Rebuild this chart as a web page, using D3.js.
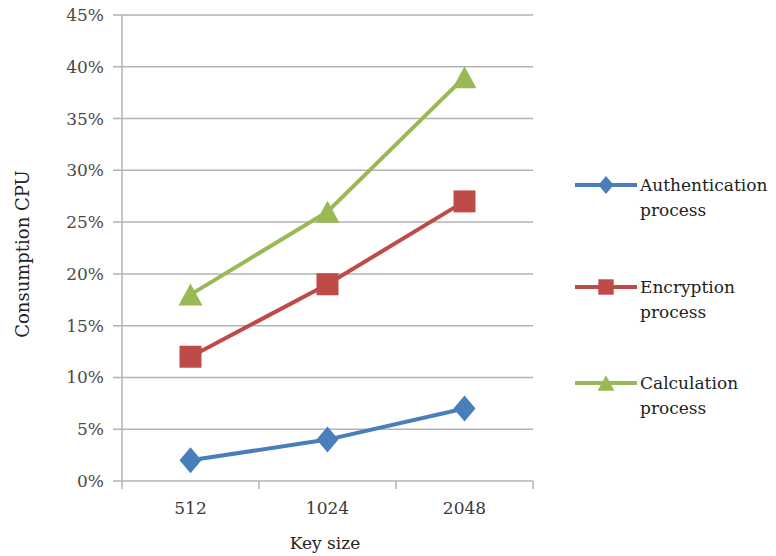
<!DOCTYPE html>
<html><head><meta charset="utf-8">
<script src="https://cdn.jsdelivr.net/npm/d3@7/dist/d3.min.js"></script>
<style>body{margin:0;background:#fff}svg{display:block}</style>
</head><body><svg id="c" width="776" height="556" font-family="'DejaVu Serif', serif"></svg>
<script>
const categories = ["512","1024","2048"];
const seriesNames = ["Authentication process","Encryption process","Calculation process"];
const authentication = [2,4,7];
const encryption = [12,19,27];
const calculation = [18,26,39];
const yTicks = [0,5,10,15,20,25,30,35,40,45];
const colors = ["#4a7ebb","#be4b48","#98b954"];
const seriesData = [authentication, encryption, calculation];

const svg = d3.select("#c");
const L=122, R=533, T=15, B=481;
const x = d3.scaleBand().domain(categories).range([L,R]);
const y = d3.scaleLinear().domain([0,45]).range([B,T]);

function marker(k, s){
  if(k===0){ const w=11*s,h=13*s; return `M0,${-h}L${w},0L0,${h}L${-w},0Z`; }
  if(k===1){ const a=11*s; return `M${-a},${-a}H${a}V${a}H${-a}Z`; }
  const w=12*s,h=11*s; return `M0,${-h}L${w},${h}H${-w}Z`;
}

svg.append("g").selectAll("line").data(yTicks).join("line")
  .attr("x1",113).attr("x2",R).attr("y1",d=>y(d)).attr("y2",d=>y(d))
  .attr("stroke","#b3b3b3").attr("stroke-width",1.5);
svg.append("g").selectAll("text").data(yTicks).join("text")
  .attr("x",104).attr("y",d=>y(d)).attr("dy","0.35em").attr("text-anchor","end")
  .attr("font-size",17).attr("fill","#4a4a4a").text(d=>d+"%");
svg.append("line").attr("x1",L).attr("x2",L).attr("y1",T).attr("y2",B).attr("stroke","#b3b3b3").attr("stroke-width",1.5);
const xt=[L].concat(categories.map(c=>x(c)+x.bandwidth()));
svg.append("g").selectAll("line").data(xt).join("line")
  .attr("x1",d=>d).attr("x2",d=>d).attr("y1",B).attr("y2",B+8).attr("stroke","#b3b3b3").attr("stroke-width",1.5);
svg.append("g").selectAll("text").data(categories).join("text")
  .attr("x",d=>x(d)+x.bandwidth()/2).attr("y",514).attr("text-anchor","middle")
  .attr("font-size",17).attr("fill","#3a3a3a").text(d=>d);
svg.append("text").attr("x",325).attr("y",549).attr("text-anchor","middle").attr("font-size",17).attr("fill","#222").text("Key size");
svg.append("text").attr("transform","translate(29,254) rotate(-90)").attr("text-anchor","middle").attr("font-size",18).attr("fill","#222").text("Consumption CPU");

const line = d3.line().x((d,i)=>x(categories[i])+x.bandwidth()/2).y(d=>y(d));
seriesData.forEach((s,k)=>{
  svg.append("path").datum(s).attr("d",line).attr("fill","none").attr("stroke",colors[k]).attr("stroke-width",4);
  svg.append("g").selectAll("path").data(s).join("path")
    .attr("transform",(d,i)=>`translate(${x(categories[i])+x.bandwidth()/2},${y(d)})`)
    .attr("d",marker(k,1)).attr("fill",colors[k]);
});

const ly=[185,287,383];
seriesNames.forEach((n,k)=>{
  const g=svg.append("g");
  g.append("line").attr("x1",575).attr("x2",637).attr("y1",ly[k]).attr("y2",ly[k]).attr("stroke",colors[k]).attr("stroke-width",4);
  g.append("path").attr("transform",`translate(606,${ly[k]})`).attr("d",marker(k,0.7)).attr("fill",colors[k]);
  const parts=n.split(" ");
  g.append("text").attr("x",640).attr("y",ly[k]+6).attr("font-size",17).attr("fill","#222").text(parts[0]);
  g.append("text").attr("x",640).attr("y",ly[k]+31).attr("font-size",17).attr("fill","#222").text(parts[1]);
});
</script></body></html>
